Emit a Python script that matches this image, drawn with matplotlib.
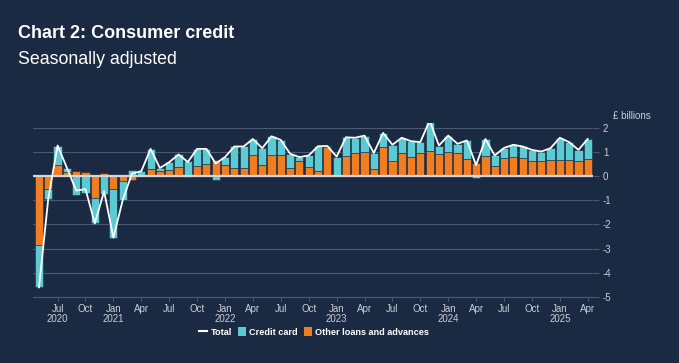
import matplotlib
matplotlib.use('Agg')
import matplotlib.pyplot as plt
from matplotlib.lines import Line2D
from matplotlib.patches import Patch
import numpy as np
import pandas as pd

plt.rcParams['font.family'] = ['Liberation Sans', 'DejaVu Sans']

# monthly flows, £ billions, May 2020 - Apr 2025
months = pd.date_range('2020-05-01', periods=60, freq='MS')
other_loans = [-2.85, -0.52, 0.44, 0.16, 0.20, 0.16, -0.89, 0.12, -0.52, -0.22,
               -0.15, 0.02, 0.30, 0.19, 0.26, 0.37, -0.06, 0.40, 0.48, 0.68,
               0.47, 0.34, 0.33, 0.85, 0.44, 0.88, 0.88, 0.34, 0.62, 0.37,
               0.19, 1.20, 0.02, 0.82, 0.95, 1.01, 0.30, 1.19, 0.64, 0.95,
               0.78, 0.95, 1.05, 0.92, 0.99, 0.95, 0.71, 0.53, 0.82, 0.40,
               0.74, 0.78, 0.75, 0.60, 0.62, 0.68, 0.67, 0.67, 0.64, 0.71]
credit_card = [-1.75, -0.41, 0.82, 0.18, -0.80, -0.70, -1.07, -0.75, -2.03, -0.78,
               0.25, 0.18, 0.82, 0.14, 0.31, 0.52, 0.64, 0.72, 0.64, -0.16,
               0.31, 0.88, 0.89, 0.68, 0.71, 0.76, 0.61, 0.58, 0.16, 0.48,
               1.04, 0.04, 0.78, 0.78, 0.63, 0.66, 0.65, 0.59, 0.65, 0.63,
               0.66, 0.45, 1.24, 0.34, 0.68, 0.38, 0.76, -0.08, 0.71, 0.45,
               0.42, 0.51, 0.47, 0.48, 0.39, 0.47, 0.91, 0.73, 0.44, 0.82]
y_ticks = [2, 1, 0, -1, -2, -3, -4, -5]

bg = '#1a2a42'
cyan = '#5ccad3'
orange = '#f07d22'
grid_c = '#4c5b72'
text_c = '#c9ced6'

other = np.array(other_loans)
card = np.array(credit_card)
total = other + card
x = np.arange(len(months))
card_bottom = np.where(np.sign(card) == np.sign(other), other, 0)

fig = plt.figure(figsize=(6.79, 3.63), dpi=100, facecolor=bg)
ax = fig.add_axes([0.0492, 0.1818, 0.8246, 0.48])
ax.set_facecolor(bg)

ax.bar(x, other, width=0.88, color=orange, edgecolor=bg, linewidth=0.4, zorder=2)
ax.bar(x, card, bottom=card_bottom, width=0.88, color=cyan, edgecolor=bg,
       linewidth=0.4, zorder=2)
ax.axhline(0, color='#d4d7dc', lw=1.6, zorder=3)
ax.plot(x, total, color='white', lw=1.3, zorder=4)

ax.set_xlim(-0.6, 59.6)
ax.set_ylim(-5, 2.2)
ax.set_yticks(y_ticks)
ax.set_yticklabels([str(v) for v in y_ticks])
ax.yaxis.tick_right()
ax.grid(axis='y', color=grid_c, lw=0.8, zorder=0)
ax.tick_params(axis='y', colors=grid_c, labelcolor=text_c, length=4, width=0.8,
               labelsize=7, pad=3)

tick_pos, tick_lab = [], []
for i, m in enumerate(months):
    if m.month in (1, 4, 7, 10):
        tick_pos.append(i)
        lab = m.strftime('%b')
        if m.month == 1 or i == 2:
            lab += '\n' + str(m.year)
        tick_lab.append(lab)
ax.set_xticks(tick_pos)
ax.set_xticklabels(tick_lab)
ax.tick_params(axis='x', colors=grid_c, labelcolor=text_c, length=3, width=0.8,
               labelsize=7, pad=2)
for lab in ax.get_xticklabels():
    lab.set_linespacing(1.0)

for s in ['top', 'right', 'left']:
    ax.spines[s].set_visible(False)
ax.spines['bottom'].set_color(grid_c)
ax.spines['bottom'].set_linewidth(0.8)

fig.text(18 / 679, 1 - 33 / 363, 'Chart 2: Consumer credit', color='white',
         fontsize=13, fontweight='bold', va='center', ha='left')
fig.text(18 / 679, 1 - 60 / 363, 'Seasonally adjusted', color='white',
         fontsize=12.8, va='center', ha='left')
fig.text(613 / 679, 1 - 116 / 363, '£ billions', color=text_c, fontsize=7,
         va='center', ha='left')

handles = [Line2D([0], [0], color='white', lw=1.5),
           Patch(facecolor=cyan), Patch(facecolor=orange)]
leg = fig.legend(handles, ['Total', 'Credit card', 'Other loans and advances'],
                 loc='center', bbox_to_anchor=(0.4625, 1 - 332 / 363), ncol=3,
                 frameon=False, handlelength=0.9, handleheight=1.1,
                 handletextpad=0.4, columnspacing=0.6,
                 prop={'weight': 'bold', 'size': 6.6})
for t in leg.get_texts():
    t.set_color('white')

fig.savefig('out.png', dpi=100, facecolor=bg)
